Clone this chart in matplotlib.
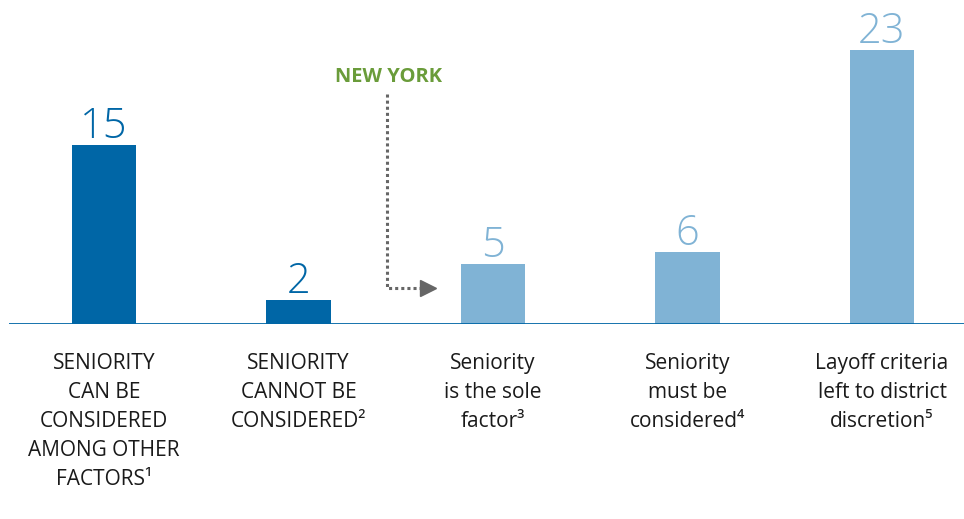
import matplotlib
matplotlib.use("Agg")
import matplotlib.pyplot as plt

categories = [
    "SENIORITY\nCAN BE\nCONSIDERED\nAMONG OTHER\nFACTORS\u00b9",
    "SENIORITY\nCANNOT BE\nCONSIDERED\u00b2",
    "Seniority\nis the sole\nfactor\u00b3",
    "Seniority\nmust be\nconsidered\u2074",
    "Layoff criteria\nleft to district\ndiscretion\u2075",
]
values = [15, 2, 5, 6, 23]
dark = "#0066A6"
light = "#80B3D5"
colors = [dark, dark, light, light, light]
callout_label = "NEW YORK"

plt.rcParams['font.family'] = ['Open Sans', 'DejaVu Sans']

W, H = 964, 519
fig = plt.figure(figsize=(W / 100, H / 100), dpi=100)
ax_left_px, ax_right_px, base_px = 9, 964, 324
ax = fig.add_axes([ax_left_px / W, (H - base_px) / H, (ax_right_px - ax_left_px) / W, base_px / H])

px_per_unit = 11.93
spacing = 194.5
first_center = 104
ax.set_ylim(0, base_px / px_per_unit)
ax.set_xlim(-(first_center - ax_left_px) / spacing, (ax_right_px - first_center) / spacing)

x = list(range(len(values)))
ax.bar(x, values, width=0.33, color=colors, zorder=2)

for xi, v, c in zip(x, values, colors):
    ax.annotate(str(v), (xi, v), xytext=(0, 5), textcoords='offset points',
                ha='center', va='baseline', fontsize=30, color=c, fontweight='light')

for xi, lab in zip(x, categories):
    ax.text(xi, -2.4, lab, ha='center', va='top', fontsize=15, color='#1a1a1a',
            linespacing=1.5, clip_on=False)

ax.axhline(0, color=dark, lw=2, zorder=3)
for s in ax.spines.values():
    s.set_visible(False)
ax.set_xticks([])
ax.set_yticks([])

# New York callout
vx = 1.455
ax.plot([vx, vx, 1.63], [19.3, 3.0, 3.0], color='#666666', lw=2.2,
        linestyle=(0, (1, 1)), solid_capstyle='butt', dash_capstyle='butt', zorder=3)
ax.plot([1.665], [3.0], marker='>', markersize=11, color='#666666', zorder=3, clip_on=False)
ax.text(vx + 0.01, 20.7, callout_label, ha='center', va='center', fontsize=14.5,
        fontweight='bold', color='#6A9C3A')

fig.savefig("out.png", dpi=100)
